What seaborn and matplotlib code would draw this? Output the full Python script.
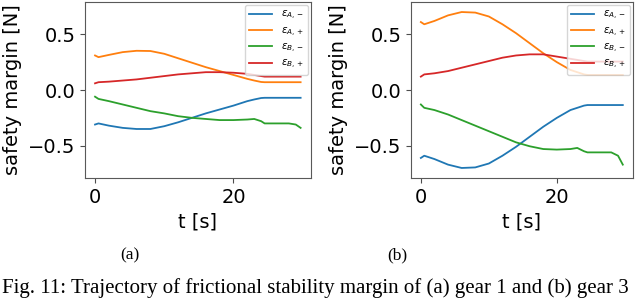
import numpy as np
import pandas as pd
import matplotlib
matplotlib.use("Agg")
import matplotlib.pyplot as plt
import seaborn as sns

# time grid (s)
t = [0, 0.5, 2, 4, 6, 8, 10, 12, 14, 16, 18, 20, 22, 23, 24, 24.5, 26, 28, 29, 29.7]

# (a) gear 1
a_A_minus = [-0.31, -0.30, -0.32, -0.34, -0.35, -0.35, -0.325, -0.29, -0.25, -0.21, -0.175,
             -0.14, -0.10, -0.085, -0.072, -0.07, -0.07, -0.07, -0.07, -0.07]
a_A_plus = [0.31, 0.295, 0.315, 0.34, 0.352, 0.35, 0.325, 0.285, 0.245, 0.205, 0.17,
            0.135, 0.10, 0.085, 0.072, 0.07, 0.07, 0.07, 0.07, 0.07]
a_B_minus = [-0.06, -0.08, -0.10, -0.13, -0.16, -0.19, -0.21, -0.235, -0.25, -0.26, -0.27,
             -0.27, -0.265, -0.26, -0.28, -0.30, -0.30, -0.30, -0.31, -0.34]
a_B_plus = [0.06, 0.07, 0.075, 0.085, 0.095, 0.11, 0.125, 0.14, 0.15, 0.16, 0.16,
            0.155, 0.145, 0.135, 0.125, 0.12, 0.12, 0.12, 0.12, 0.12]

# (b) gear 3
b_A_minus = [-0.61, -0.59, -0.62, -0.67, -0.70, -0.695, -0.66, -0.59, -0.51, -0.42, -0.33,
             -0.25, -0.18, -0.16, -0.14, -0.135, -0.135, -0.135, -0.135, -0.135]
b_A_plus = [0.61, 0.59, 0.62, 0.67, 0.70, 0.695, 0.66, 0.59, 0.51, 0.42, 0.33,
            0.25, 0.18, 0.16, 0.14, 0.135, 0.135, 0.135, 0.135, 0.135]
b_B_minus = [-0.13, -0.16, -0.18, -0.22, -0.27, -0.32, -0.37, -0.42, -0.47, -0.505, -0.53,
             -0.535, -0.53, -0.52, -0.55, -0.56, -0.56, -0.56, -0.59, -0.67]
b_B_plus = [0.12, 0.14, 0.15, 0.17, 0.20, 0.23, 0.26, 0.29, 0.31, 0.32, 0.32,
            0.30, 0.28, 0.27, 0.26, 0.255, 0.255, 0.255, 0.255, 0.255]

labels = [r'$\varepsilon_{A,-}$', r'$\varepsilon_{A,+}$',
          r'$\varepsilon_{B,-}$', r'$\varepsilon_{B,+}$']


def make_df(series):
    frames = []
    for lab, vals in zip(labels, series):
        frames.append(pd.DataFrame({'t': t, 'margin': vals, 'series': lab}))
    return pd.concat(frames, ignore_index=True)


df_a = make_df([a_A_minus, a_A_plus, a_B_minus, a_B_plus])
df_b = make_df([b_A_minus, b_A_plus, b_B_minus, b_B_plus])

W, H = 640, 298
fig = plt.figure(figsize=(6.4, 2.98), dpi=100)
ax_a = fig.add_axes([85 / W, 1 - 178 / H, (311 - 85) / W, (178 - 2) / H])
ax_b = fig.add_axes([411 / W, 1 - 178 / H, (633 - 411) / W, (178 - 2) / H])

palette = sns.color_palette('tab10', 4)
for ax, df in [(ax_a, df_a), (ax_b, df_b)]:
    sns.lineplot(data=df, x='t', y='margin', hue='series', palette=palette,
                 linewidth=1.3, ax=ax)
    ax.set_xlim(-1.45, 31.2)
    ax.set_ylim(-0.79, 0.79)
    ax.set_xticks([0, 20])
    ax.set_yticks([-0.5, 0.0, 0.5])
    ax.tick_params(labelsize=14, color='0.3')
    ax.set_xlabel('t [s]', fontsize=14)
    ax.set_ylabel('safety margin [N]', fontsize=14)
    for s in ax.spines.values():
        s.set_color('0.35')
    ax.legend(loc='upper right', fontsize=7.5, handlelength=2.2, borderpad=0.4,
              labelspacing=0.3, borderaxespad=0.3)

fig.text(130 / W, 1 - 255 / H, '(a)', ha='center', va='center',
         family='Liberation Serif', fontsize=12.5)
fig.text(397 / W, 1 - 255 / H, '(b)', ha='center', va='center',
         family='Liberation Serif', fontsize=12.5)
fig.text(2 / W, 1 - 293 / H,
         'Fig. 11: Trajectory of frictional stability margin of (a) gear 1 and (b) gear 3',
         ha='left', va='baseline', family='Liberation Serif', fontsize=15)

fig.savefig('out.png', dpi=100)
